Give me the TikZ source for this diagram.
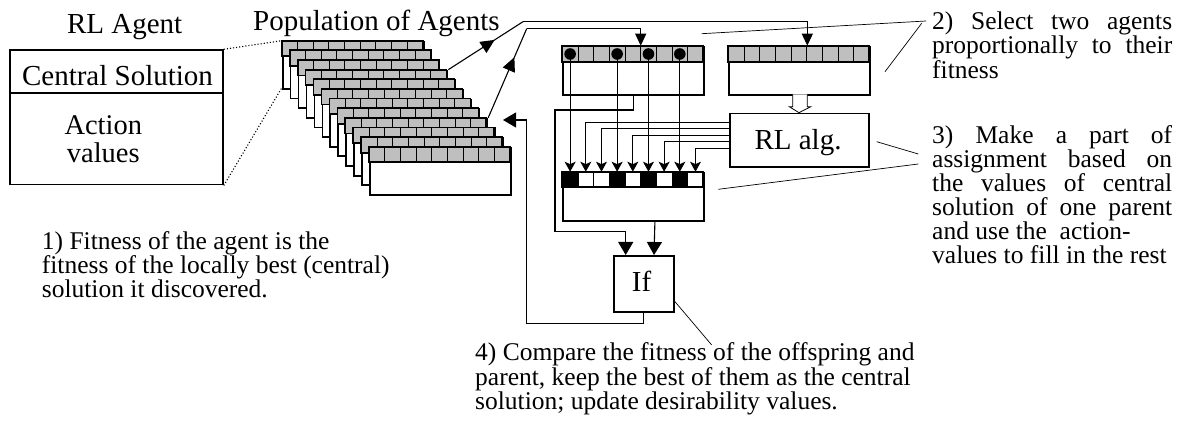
\documentclass[tikz,border=0pt]{standalone}
\usepackage{fontspec}
\setmainfont{Liberation Serif}
\usetikzlibrary{arrows.meta,decorations.markings,calc}
\begin{document}
\begin{tikzpicture}[x=1pt,y=-1pt,
  box/.style={draw, line width=1.8pt, fill=white, inner sep=0pt, anchor=north west},
  big/.style={font=\fontsize{29}{33}\selectfont, inner sep=0pt},
  ann/.style={font=\fontsize{25.5}{30}\selectfont, inner sep=0pt, anchor=base west},
  conn/.style={line width=1.1pt},
  thinconn/.style={line width=0.9pt},
  ptr/.style={line width=0.7pt},
  tipS/.style={-{Stealth[length=10pt,width=11pt,inset=2.5pt]}},
  tipL/.style={-{Triangle[length=13pt,width=15pt]}},
  tipM/.style={-{Triangle[length=12pt,width=11pt]}},
  midarrow/.style={postaction={decorate}, decoration={markings,
     mark=at position #1 with {\arrow{Triangle[length=14pt,width=13pt]}}}},
  cellline/.style={line width=0.9pt},
  strip/.style={line width=1.8pt},
]
\useasboundingbox (0,0) rectangle (1177,430);

% ---------- RL agent box ----------
\node[box, minimum width=212.7pt, minimum height=134.4pt] (agent) at (9.3,49.3) {};
\draw[line width=1.8pt] (9.3,93.3) -- (222,93.3);
\node[big, anchor=base] (tagent) at (124.7,34) {RL Agent};
\node[big, anchor=base] (tcs) at (117.5,86) {Central Solution};
\node[font=\fontsize{28.5}{27.5}\selectfont, inner sep=0pt, align=center, anchor=center]
   (tav) at (103.3,139) {Action\\values};

% ---------- Population ----------
\node[big, anchor=base west] (tpop) at (253,30.5) {Population of Agents};

\draw[dotted, line width=1.1pt] (agent.north east) -- (281.7,40.7);
\draw[dotted, line width=1.1pt] (agent.south east) -- (281.7,88);

\foreach \i in {0,...,11}{
  \pgfmathsetmacro\cx{281.7+7.96*\i}
  \pgfmathsetmacro\cy{40.7+9.64*\i}
  \node[box, minimum width=141pt, minimum height=47.3pt] (card\i) at (\cx,\cy) {};
  \fill[gray!50] (\cx,\cy) rectangle ++(141,15.6);
  \foreach \k in {1,...,8} \draw[cellline] (\cx+\k*15.667,\cy) -- ++(0,15.6);
  \draw[strip] (\cx,\cy) rectangle ++(141,15.6);
}

% ---------- Parents ----------
\node[box, minimum width=141pt, minimum height=48.6pt] (p1) at (562.3,45.7) {};
\fill[gray!50] (562.3,45.7) rectangle ++(141,16.3);
\foreach \k in {1,...,8} \draw[cellline] (562.3+\k*15.667,45.7) -- ++(0,16.3);
\draw[strip] (562.3,45.7) rectangle ++(141,16.3);

\node[box, minimum width=141pt, minimum height=48.6pt] (p2) at (728.3,45.7) {};
\fill[gray!50] (728.3,45.7) rectangle ++(141,16.3);
\foreach \k in {1,...,8} \draw[cellline] (728.3+\k*15.667,45.7) -- ++(0,16.3);
\draw[strip] (728.3,45.7) rectangle ++(141,16.3);

% ---------- Child ----------
\node[box, minimum width=141pt, minimum height=48.3pt] (child) at (562.3,171.7) {};
\foreach \k in {1,4,6,8} \fill[black] (562.3+\k*15.667-15.667,171.7) rectangle ++(15.667,15.6);
\foreach \k in {1,...,8} \draw[cellline] (562.3+\k*15.667,171.7) -- ++(0,15.6);
\draw[strip] (562.3,171.7) rectangle ++(141,15.6);

% ---------- RL alg and If ----------
\node[box, minimum width=138.4pt, minimum height=53.3pt] (rl) at (729.3,112.7) {};
\node[big, anchor=base] (trl) at (798,149.5) {RL alg.};
\node[box, minimum width=60.6pt, minimum height=55.7pt] (ifb) at (612.7,255) {};
\node[big, anchor=base] (tif) at (641.5,291.7) {If};

% hollow arrow parent2 -> RL alg
\draw[line width=0.8pt, fill=white] (792.7,94.3) -- (792.7,106.7) -- (789.3,106.7)
   -- (799,112.7) -- (810.7,106.7) -- (807.3,106.7) -- (807.3,94.3);

% ---------- selection lines ----------
\coordinate (cA) at (523,21.7);
\coordinate (cB) at (526.7,28.7);
\draw[conn, midarrow=0.62] (card3.north east) -- (cA);
\draw[conn, tipM] (cA) -- (807.3,21.7) -- ($(p2.north west)+(79,0)$);
\draw[conn, midarrow=0.68] (card8.north east) -- (cB);
\draw[conn, tipM] (cB) -- (640.7,28.7) -- ($(p1.north west)+(78.4,0)$);

% ---------- inheritance from parent 1 ----------
\foreach \k in {1,4,6,8}{
  \draw[thinconn, tipS] (562.3+\k*15.667-7.833,54) -- (562.3+\k*15.667-7.833,171.7);
}
\foreach \k in {1,4,6,8}{
  \fill[black] (562.3+\k*15.667-7.833,54) circle (5.8pt);
}

% ---------- from RL alg ----------
\draw[thinconn, tipS] (rl.west |- 0,122.3) -| (585.8,171.7);
\draw[thinconn, tipS] (rl.west |- 0,128.3) -| (601.47,171.7);
\draw[thinconn, tipS] (rl.west |- 0,135) -| (632.8,171.7);
\draw[thinconn, tipS] (rl.west |- 0,141.7) -| (664.13,171.7);
\draw[thinconn, tipS] (rl.west |- 0,148.3) -| (695.47,171.7);

% ---------- to If ----------
\draw[conn, tipL] (p1.south) |- (555,110) |- (625.7,231.7) -- ($(ifb.north west)+(13,0)$);
\draw[conn, tipL] ($(child.south)+(21.2,0)$) -- ($(ifb.north west)+(41.3,0)$);

% ---------- return ----------
\coordinate (ret) at (503,120);
\draw[conn, tipL] (ifb.south) |- (526.7,323.3) |- (ret);

% ---------- annotations ----------
\node[ann] (a1) at (41.7,249.5) {1) Fitness of the agent is the};
\node[ann] (a1b) at (41.7,273.5) {fitness of the locally best (central)};
\node[ann] (a1c) at (41.7,297.5) {solution it discovered.};

\node[ann] (a2) at (932,29.5) {\makebox[240pt][s]{2) Select two agents}};
\node[ann] (a2b) at (932,54) {\makebox[240pt][s]{proportionally to their}};
\node[ann] (a2c) at (932,79) {fitness};

\node[ann] (a3) at (932,143.5) {\makebox[240pt][s]{3) Make a part of}};
\node[ann] (a3b) at (932,167.5) {\makebox[240pt][s]{assignment based on}};
\node[ann] (a3c) at (932,191.5) {\makebox[240pt][s]{the values of central}};
\node[ann] (a3d) at (932,215.5) {\makebox[240pt][s]{solution of one parent}};
\node[ann] (a3e) at (932,239.5) {and use the\ \ action-};
\node[ann] (a3f) at (932,263.5) {values to fill in the rest};

\node[ann] (a4) at (475,360.5) {4) Compare the fitness of the offspring and};
\node[ann] (a4b) at (475,385) {parent, keep the best of them as the central};
\node[ann] (a4c) at (475,409.5) {solution; update desirability values.};

% ---------- pointer lines ----------
\draw[ptr] (926,21) -- (701.7,33.7);
\draw[ptr] (921.7,23.3) -- (885,71.7);
\draw[ptr] (876.7,141.7) -- (918.3,154);
\draw[ptr] (918.3,164) -- (718.3,189.3);
\draw[ptr] (675,301.7) -- (711.7,345);
\end{tikzpicture}
\end{document}
